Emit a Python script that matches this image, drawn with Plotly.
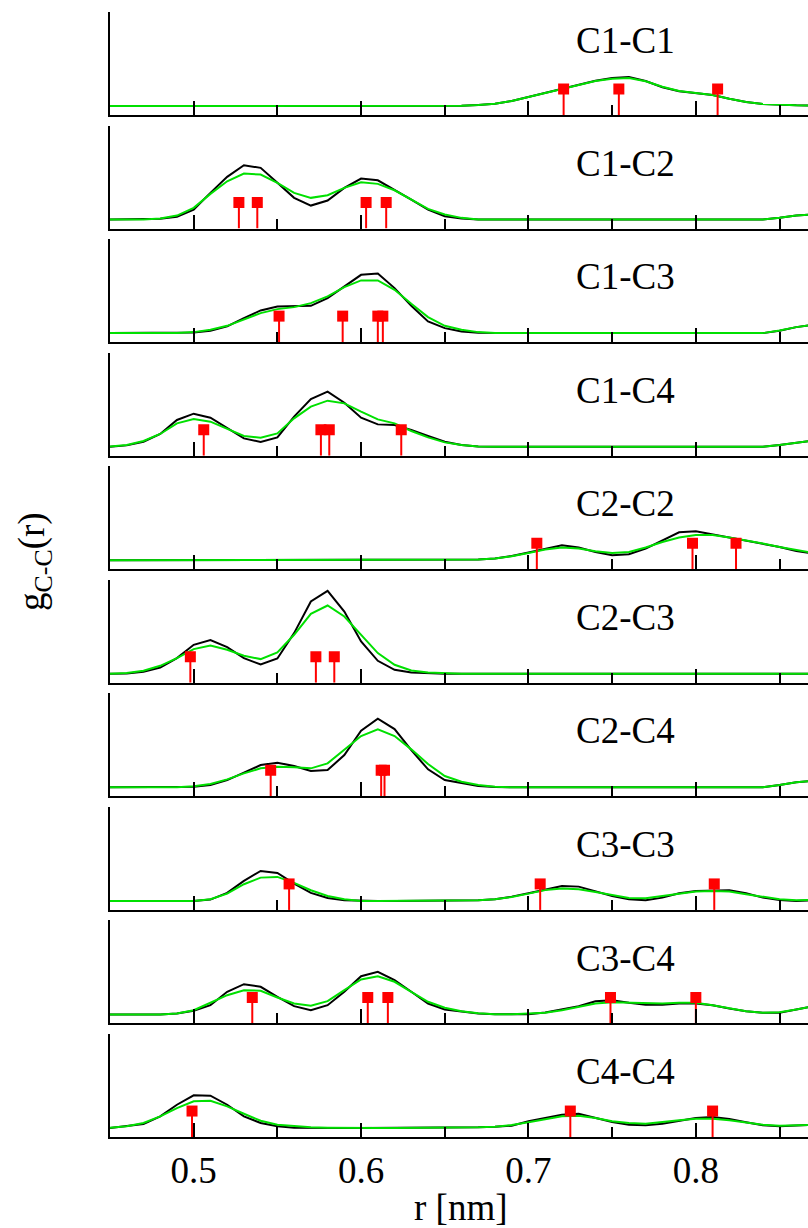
import plotly.graph_objects as go

# r grid [nm]
R = [0.45, 0.46, 0.47, 0.48, 0.49, 0.50, 0.51, 0.52, 0.53, 0.54,
     0.55, 0.56, 0.57, 0.58, 0.59, 0.60, 0.61, 0.62, 0.63, 0.64,
     0.65, 0.66, 0.67, 0.68, 0.69, 0.70, 0.71, 0.72, 0.73, 0.74,
     0.75, 0.76, 0.77, 0.78, 0.79, 0.80, 0.81, 0.82, 0.83, 0.84,
     0.85, 0.86, 0.87]

PAIRS = ["C1-C1", "C1-C2", "C1-C3", "C1-C4", "C2-C2",
         "C2-C3", "C2-C4", "C3-C3", "C3-C4", "C4-C4"]

# g(r) in arbitrary units (black and green curves)
c1c1_black = [0, 0, 0, 0, 0, 0, 0, 0, 0, 0,
              0, 0, 0, 0, 0, 0, 0, 0, 0, 0,
              0, 0.3, 1, 2.3, 5, 9, 13.3, 17.3, 21.3, 25.3,
              28, 29, 25, 18.7, 14.7, 13, 11, 7.3, 4, 2,
              1, 0.7, 0.5]
c1c1_green = [0, 0, 0, 0, 0, 0, 0, 0, 0, 0,
              0, 0, 0, 0, 0, 0, 0, 0, 0, 0,
              0, 0.3, 1, 2.3, 5, 9, 13.3, 17.3, 21.3, 25,
              27.3, 28, 24.7, 19.3, 15, 13, 11, 7.3, 4, 2,
              1, 0.7, 0.5]

c1c2_black = [0, 0, 0, 0.7, 2.7, 10, 26.7, 42.7, 54.3, 51.7,
              36.7, 21.7, 14, 19, 31.7, 41, 39.3, 30, 20, 10,
              3.3, 1, 0, 0, 0, 0, 0, 0, 0, 0,
              0, 0, 0, 0, 0, 0, 0, 0, 0, 0,
              1.7, 4, 5.3]
c1c2_green = [0, 0, 0, 1, 4, 11.7, 25.7, 38.3, 46, 45,
              36.7, 26.7, 21.7, 24.3, 31.7, 37.3, 35.7, 29.3, 20, 10.7,
              5, 1.7, 0, 0, 0, 0, 0, 0, 0, 0,
              0, 0, 0, 0, 0, 0, 0, 0, 0, 0,
              1.7, 4, 5.3]

c1c3_black = [0, 0, 0, 0, 0, 0.7, 2.3, 6.7, 15, 22.7,
              26.7, 26.7, 27.3, 35, 46.7, 58.3, 59.7, 45, 27.3, 11.7,
              5, 1.7, 0.3, 0, 0, 0, 0, 0, 0, 0,
              0, 0, 0, 0, 0, 0, 0, 0, 0, 0,
              2.3, 6, 8.3]
c1c3_green = [0, 0, 0, 0, 0, 1, 3.3, 7.3, 13.3, 20,
              24, 26, 30, 36.7, 46, 52.7, 52.7, 43.3, 29.3, 16,
              7.3, 3.3, 1, 0, 0, 0, 0, 0, 0, 0,
              0, 0, 0, 0, 0, 0, 0, 0, 0, 0,
              2.7, 6, 8.3]

c1c4_black = [0, 1.3, 5, 12.7, 26.7, 33, 29, 18.3, 8.3, 4.7,
              9.3, 30, 47.7, 55, 44, 29, 22.3, 21.7, 16.7, 10.7,
              5, 1.7, 0.3, 0, 0, 0, 0, 0, 0, 0,
              0, 0, 0, 0, 0, 0, 0, 0, 0, 0,
              1.7, 4, 6]
c1c4_green = [0.3, 1.7, 5.7, 12.7, 23.3, 27.7, 25, 17.7, 10.7, 9,
              13.3, 28.3, 40, 46, 43.3, 35, 27.3, 23.3, 15.7, 9.3,
              4.3, 1.7, 0.3, 0, 0, 0, 0, 0, 0, 0,
              0, 0, 0, 0, 0, 0, 0, 0, 0, 0,
              1.7, 4, 6]

c2c2_black = [0, 0, 0, 0, 0, 0, 0, 0, 0, 0,
              0, 0, 0, 0, 0, 0, 0, 0, 0, 0,
              0, 0.3, 0.7, 1.7, 4.3, 7.7, 11.7, 15, 12.7, 8.3,
              5, 6, 11.7, 20, 28, 29, 26, 22.7, 20, 16.7,
              13.3, 9.3, 6.7]
c2c2_green = [0, 0, 0, 0, 0, 0, 0, 0, 0, 0,
              0, 0, 0, 0, 0, 0, 0, 0, 0, 0,
              0, 0.3, 0.7, 1.7, 4, 7.3, 10.7, 12.7, 11.7, 9,
              7.3, 8.3, 12.7, 18.3, 22.7, 25.3, 25.3, 22.7, 20, 16.7,
              13.3, 10, 7.3]

c2c3_black = [0, 0.3, 2, 6.3, 15.7, 29, 33.7, 26.7, 15.7, 9.3,
              15.3, 40.7, 72.3, 83, 62.3, 32.3, 13, 4, 1.3, 0.3,
              0, 0, 0, 0, 0, 0, 0, 0, 0, 0,
              0, 0, 0, 0, 0, 0, 0, 0, 0, 0,
              0, 0, 0]
c2c3_green = [0, 0.7, 3, 8, 15.7, 24.7, 28.3, 24, 18, 14.7,
              21.3, 39, 60, 68.3, 57.3, 39, 20.7, 9, 3.3, 1.3,
              0.3, 0, 0, 0, 0, 0, 0, 0, 0, 0,
              0, 0, 0, 0, 0, 0, 0, 0, 0, 0,
              0, 0, 0]

c2c4_black = [0, 0, 0, 0, 0, 0.7, 2.3, 7.3, 14.7, 22.3,
              24.7, 21.3, 16.3, 17.3, 32.3, 56.7, 68.7, 58.3, 37.3, 18,
              7.3, 4, 1.3, 0.3, 0, 0, 0, 0, 0, 0,
              0, 0, 0, 0, 0, 0, 0, 0, 0, 0,
              2.3, 5, 6.7]
c2c4_green = [0, 0, 0, 0, 0, 1, 3.3, 8, 14, 19,
              20.7, 20, 19, 24, 38, 51.3, 58, 51.3, 38, 23.3,
              11.3, 5.7, 2.3, 0.7, 0, 0, 0, 0, 0, 0,
              0, 0, 0, 0, 0, 0, 0, 0, 0, 0,
              2.3, 5, 6.7]

c3c3_black = [0, 0, 0, 0, 0, 0, 1.3, 8, 20, 30,
              28, 17.3, 8, 3, 0.7, 0, 0, 0, 0, 0,
              0, 0, 0.7, 1.7, 4.3, 7.7, 11.7, 15, 14.3, 10,
              5, 1.7, 0.7, 3.3, 7.7, 10, 10.7, 10.7, 7.7, 3.3,
              1, 0, 0.7]
c3c3_green = [0, 0, 0, 0, 0, 0, 1.7, 7.3, 16.7, 23.3,
              24, 18, 10.7, 5, 1.7, 0, 0, 0, 0, 0,
              0, 0, 0.7, 1.7, 4, 7.3, 11, 12.3, 11.7, 9,
              5.7, 3, 2.7, 4.7, 7.3, 9.3, 10, 9.3, 6.7, 4,
              1.7, 0.7, 1]

c3c4_black = [0, 0, 0, 0, 1, 3.7, 9.3, 22.7, 30.3, 27.7,
              17.7, 8.3, 4.3, 9.3, 22.7, 38.3, 42.7, 34.3, 22.7, 11,
              5, 2.7, 1, 0.3, 0, 0.3, 2, 5, 8.3, 13.3,
              14.3, 11.7, 9.7, 9.7, 11, 11, 9.3, 6, 3.3, 1.7,
              1.7, 5, 8.3]
c3c4_green = [0, 0, 0, 0, 1, 4.3, 11.7, 19.3, 24.3, 23.7,
              17, 11, 8.7, 13.3, 24.3, 35, 38.3, 32.7, 22.7, 12.7,
              6.7, 3.3, 1.3, 0.3, 0.3, 0.7, 1.7, 4.3, 7.7, 11,
              12.3, 11.7, 11, 11, 11.7, 11.7, 9.3, 6, 3.3, 1.7,
              2.3, 5, 8.3]

c4c4_black = [0, 1.7, 4, 11.7, 23.3, 32.7, 32.3, 23.3, 11.7, 5,
              1.7, 0.3, 0, 0, 0, 0, 0, 0, 0, 0,
              0, 0.3, 0.7, 1.3, 2.3, 6.7, 10, 13.3, 14.3, 10,
              6, 3.3, 2.7, 4.3, 7.3, 10, 11, 9, 5.7, 2.7,
              1.7, 2.3, 3.3]
c4c4_green = [0.3, 1.7, 5, 11.7, 20, 26.7, 27.3, 21.7, 14.3, 7.3,
              3.3, 1.7, 0.7, 0.3, 0, 0, 0, 0, 0, 0,
              0, 0.3, 0.7, 1.3, 3, 5.7, 9, 11.7, 12.3, 10,
              6.7, 5, 4.3, 5.7, 7.7, 9.3, 9.3, 7.7, 5.7, 3.3,
              2.3, 2.7, 3.3]

# reference distances (red marks) [nm]
c1c1_marks = [0.721, 0.754, 0.813]
c1c2_marks = [0.527, 0.538, 0.603, 0.615]
c1c3_marks = [0.551, 0.589, 0.610, 0.613]
c1c4_marks = [0.506, 0.576, 0.581, 0.624]
c2c2_marks = [0.705, 0.798, 0.824]
c2c3_marks = [0.498, 0.573, 0.584]
c2c4_marks = [0.546, 0.612, 0.614]
c3c3_marks = [0.557, 0.707, 0.811]
c3c4_marks = [0.535, 0.604, 0.616, 0.749, 0.800]
c4c4_marks = [0.499, 0.725, 0.810]
MARK_LEVEL = 17

BLACKS = [c1c1_black, c1c2_black, c1c3_black, c1c4_black, c2c2_black,
          c2c3_black, c2c4_black, c3c3_black, c3c4_black, c4c4_black]
GREENS = [c1c1_green, c1c2_green, c1c3_green, c1c4_green, c2c2_green,
          c2c3_green, c2c4_green, c3c3_green, c3c4_green, c4c4_green]
MARKS = [c1c1_marks, c1c2_marks, c1c3_marks, c1c4_marks, c2c2_marks,
         c2c3_marks, c2c4_marks, c3c3_marks, c3c4_marks, c4c4_marks]

# ---------------- layout geometry ----------------
W, H = 808, 1228
X_LEFT_PX = 110
YMIN, YMAX = -9, 94
XMIN, XMAX = 0.45, 0.867
PANEL_H = 103
BOTTOM0 = 115
PITCH = 113.56
FONT = "Times New Roman, Liberation Serif, serif"
GREEN = "#00e000"
RED = "#ff0000"

fig = go.Figure()
layout = {}
annotations = []

for k in range(10):
    xs = "x" if k == 0 else f"x{k+1}"
    ys = "y" if k == 0 else f"y{k+1}"
    xa = "xaxis" if k == 0 else f"xaxis{k+1}"
    ya = "yaxis" if k == 0 else f"yaxis{k+1}"
    bottom = BOTTOM0 + k * PITCH
    top = bottom - PANEL_H
    d0 = 1 - bottom / H
    d1 = 1 - top / H

    fig.add_trace(go.Scatter(x=R, y=BLACKS[k], mode="lines",
                             line=dict(color="black", width=2),
                             xaxis=xs, yaxis=ys, showlegend=False,
                             hoverinfo="skip"))
    fig.add_trace(go.Scatter(x=R, y=GREENS[k], mode="lines",
                             line=dict(color=GREEN, width=2),
                             xaxis=xs, yaxis=ys, showlegend=False,
                             hoverinfo="skip"))
    m = MARKS[k]
    fig.add_trace(go.Scatter(
        x=m, y=[MARK_LEVEL] * len(m), mode="markers",
        marker=dict(symbol="square", size=11, color=RED, line=dict(width=0)),
        error_y=dict(type="data", symmetric=False,
                     array=[0] * len(m),
                     arrayminus=[MARK_LEVEL - YMIN] * len(m),
                     color=RED, thickness=2, width=0),
        xaxis=xs, yaxis=ys, showlegend=False, hoverinfo="skip"))

    layout[xa] = dict(
        domain=[X_LEFT_PX / W, 1.0], range=[XMIN, XMAX], anchor=ys,
        showline=True, linecolor="black", linewidth=2,
        ticks="inside", ticklen=14, tickwidth=1.5, tickcolor="black",
        tickmode="array", tickvals=[0.5, 0.6, 0.7, 0.8],
        ticktext=["0.5", "0.6", "0.7", "0.8"],
        minor=dict(tickmode="array", tickvals=[0.55, 0.65, 0.75, 0.85],
                   ticks="inside", ticklen=10, tickwidth=1.5,
                   tickcolor="black", showgrid=False),
        showgrid=False, zeroline=False,
        showticklabels=(k == 9),
        ticklabelstandoff=0,
        tickfont=dict(family=FONT, size=37, color="black"),
    )
    layout[ya] = dict(
        domain=[d0, d1], range=[YMIN, YMAX], anchor=xs,
        showline=True, linecolor="black", linewidth=2,
        ticks="", showticklabels=False, showgrid=False, zeroline=False,
    )
    frac = 0.725 if k == 0 else 0.635
    annotations.append(dict(
        text=PAIRS[k], xref=f"{xs} domain", yref=f"{ys} domain",
        x=(625 - X_LEFT_PX) / (W - X_LEFT_PX), y=frac,
        xanchor="center", yanchor="middle", showarrow=False,
        font=dict(family=FONT, size=37, color="black")))

annotations.append(dict(
    text="r [nm]", xref="paper", yref="paper",
    x=461 / W, y=1 - 1207 / H, xanchor="center", yanchor="middle",
    showarrow=False, font=dict(family=FONT, size=37, color="black")))
annotations.append(dict(
    text="g<sub>C-C</sub>(r)", xref="paper", yref="paper",
    x=34 / W, y=1 - 562 / H, xanchor="center", yanchor="middle",
    textangle=-90, showarrow=False,
    font=dict(family=FONT, size=37, color="black")))

fig.update_layout(
    width=W, height=H,
    margin=dict(l=0, r=0, t=0, b=0),
    paper_bgcolor="white", plot_bgcolor="white",
    annotations=annotations,
    **layout,
)

fig.write_html(
    "out.html",
    config={"displayModeBar": False},
    post_script="document.body.style.margin='0';document.body.style.overflow='hidden';",
)
